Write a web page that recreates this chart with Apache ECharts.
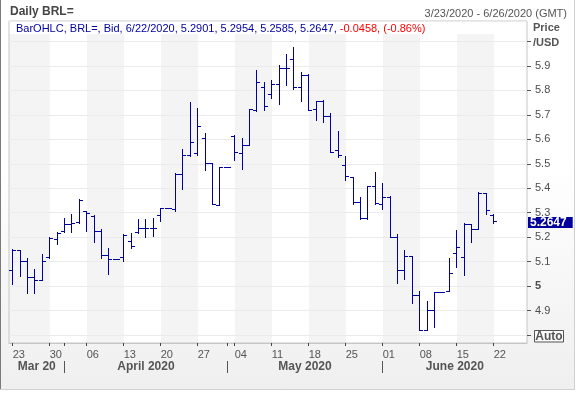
<!DOCTYPE html>
<html><head><meta charset="utf-8">
<script src="https://cdn.jsdelivr.net/npm/echarts@6/dist/echarts.min.js"></script>
<style>html,body{margin:0;padding:0;background:#fff}#c{width:577px;height:394px}</style>
</head><body><div id="c"></div>
<script>
// ---- data ----
const dates = [
 '2020-03-23','2020-03-24','2020-03-25','2020-03-26','2020-03-27','2020-03-30','2020-03-31',
 '2020-04-01','2020-04-02','2020-04-03','2020-04-06','2020-04-07','2020-04-08','2020-04-09','2020-04-10',
 '2020-04-13','2020-04-14','2020-04-15','2020-04-16','2020-04-17','2020-04-20','2020-04-21','2020-04-22',
 '2020-04-23','2020-04-24','2020-04-27','2020-04-28','2020-04-29','2020-04-30',
 '2020-05-01','2020-05-04','2020-05-05','2020-05-06','2020-05-07','2020-05-08','2020-05-11','2020-05-12',
 '2020-05-13','2020-05-14','2020-05-15','2020-05-18','2020-05-19','2020-05-20','2020-05-21','2020-05-22',
 '2020-05-25','2020-05-26','2020-05-27','2020-05-28','2020-05-29',
 '2020-06-01','2020-06-02','2020-06-03','2020-06-04','2020-06-05','2020-06-08','2020-06-09','2020-06-10',
 '2020-06-11','2020-06-12','2020-06-15','2020-06-16','2020-06-17','2020-06-18','2020-06-19','2020-06-22'
];
const padDates = ['2020-06-23','2020-06-24','2020-06-25','2020-06-26'];

const opens = [
 5.065,5.147,5.102,5.036,5.025,5.117,5.191,
 5.226,5.254,5.260,5.305,5.288,5.226,5.126,5.109,5.120,5.183,5.222,5.236,5.238,5.290,5.318,5.315,5.458,5.535,5.546,5.605,5.503,5.331,
 5.485,5.615,5.543,5.576,5.720,5.813,5.785,5.825,5.890,5.927,5.813,5.863,5.723,5.757,5.695,5.556,5.495,5.445,5.342,5.277,5.410,
 5.334,5.365,5.202,5.065,5.123,4.963,4.822,4.902,4.974,4.980,5.136,5.117,5.252,5.232,5.382,5.2901
];
const highs = [
 5.150,5.147,5.113,5.068,5.131,5.199,5.222,
 5.277,5.293,5.355,5.308,5.290,5.232,5.154,5.109,5.213,5.217,5.273,5.273,5.279,5.318,5.318,5.461,5.559,5.751,5.727,5.625,5.503,5.485,
 5.485,5.618,5.604,5.723,5.883,5.834,5.843,5.904,5.949,5.979,5.876,5.866,5.757,5.761,5.709,5.634,5.532,5.447,5.363,5.410,5.465,
 5.420,5.369,5.213,5.147,5.123,4.981,4.939,4.974,4.974,5.116,5.229,5.259,5.252,5.386,5.382,5.2954
];
const lows = [
 5.007,5.041,4.973,4.973,5.025,5.113,5.171,
 5.222,5.222,5.259,5.226,5.181,5.113,5.049,5.109,5.102,5.154,5.218,5.202,5.204,5.267,5.318,5.308,5.398,5.530,5.537,5.473,5.334,5.331,
 5.485,5.515,5.480,5.576,5.717,5.720,5.768,5.743,5.821,5.804,5.758,5.720,5.679,5.670,5.549,5.529,5.434,5.334,5.274,5.274,5.335,
 5.314,5.202,5.013,5.027,4.932,4.820,4.820,4.834,4.974,4.980,5.079,5.045,5.181,5.232,5.293,5.2585
];
const closes = [
 5.147,5.102,5.036,5.025,5.102,5.198,5.218,
 5.254,5.256,5.352,5.297,5.226,5.126,5.109,5.109,5.209,5.165,5.238,5.236,5.238,5.318,5.318,5.458,5.535,5.590,5.654,5.503,5.334,5.485,
 5.485,5.548,5.577,5.723,5.834,5.736,5.825,5.890,5.890,5.815,5.863,5.720,5.757,5.695,5.549,5.536,5.450,5.342,5.277,5.410,5.338,
 5.363,5.202,5.065,5.123,4.962,4.822,4.902,4.974,4.974,5.052,5.161,5.252,5.232,5.382,5.3105,5.2647
];
const monthLabels = ['Mar 20', 'April 2020', 'May 2020', 'June 2020'];
const hiddenYLabels = [4.8, 6.0];

// ---- layout / style ----
const FONT = "'Liberation Sans', Arial, sans-serif";
const BAR_COLOR = '#0000a0';
const GRID = {left: 9, right: 50, top: 21, bottom: 51};
const Y_MIN = 4.767, Y_MAX = 6.084;
const W = 577, H = 394;

const allDates = dates.concat(padDates);
const isMonday = d => new Date(d + 'T00:00:00Z').getUTCDay() === 1;
const isMonthStart = i => i === 0 || allDates[i].slice(5, 7) !== allDates[i - 1].slice(5, 7);
const fmtDate = d => { const p = d.split('-'); return (+p[1]) + '/' + (+p[2]) + '/' + p[0]; };

const mondays = allDates.map((d, i) => isMonday(d) ? i : -1).filter(i => i >= 0);
const bands = [];
for (let k = 0; k + 1 < mondays.length; k += 2) bands.push([mondays[k], mondays[k + 1], Y_MIN]);

const ohlc = dates.map((d, i) => [i, opens[i], highs[i], lows[i], closes[i]]);
const n = dates.length - 1;
const chg = closes[n] - closes[n - 1];
const pct = chg / closes[n - 1] * 100;
const legendText = '{n|BarOHLC, BRL=, Bid, ' + fmtDate(dates[n]) + ', ' +
  opens[n].toFixed(4) + ', ' + highs[n].toFixed(4) + ', ' + lows[n].toFixed(4) + ', ' + closes[n].toFixed(4) + ', }' +
  '{r|' + chg.toFixed(4) + ', (' + pct.toFixed(2) + '%)}';

const chart = echarts.init(document.getElementById('c'), null, {renderer: 'canvas', width: W, height: H});

const baseGraphics = [
  {type: 'rect', z: -100, shape: {x: 0, y: 0, width: 575, height: 390},
   style: {fill: new echarts.graphic.LinearGradient(0, 0, 0, 1, [
     {offset: 0, color: '#ffffff'}, {offset: 0.42, color: '#ffffff'}, {offset: 1, color: '#efefef'}])}},
  {type: 'line', z: 50, shape: {x1: 0.5, y1: 0, x2: 0.5, y2: 390}, style: {stroke: '#7a7a7a', lineWidth: 1}},
  {type: 'line', z: 50, shape: {x1: 574.5, y1: 0, x2: 574.5, y2: 390}, style: {stroke: '#d0d0d0', lineWidth: 1}},
  {type: 'line', z: 50, shape: {x1: 0, y1: 389.5, x2: 575, y2: 389.5}, style: {stroke: '#d0d0d0', lineWidth: 1}},
  {type: 'rect', z: 50, shape: {x: 534.5, y: 330.5, width: 29, height: 11.5},
   style: {fill: '#fafafa', stroke: '#555', lineWidth: 1}},
  {type: 'text', z: 51, x: 549, y: 336.5,
   style: {text: 'Auto', font: 'bold 12px ' + FONT, fill: '#555', align: 'center', verticalAlign: 'middle'}}
];

const option = {
  animation: false,
  backgroundColor: '#ffffff',
  title: [
    {text: 'Daily BRL=', left: 10, top: 5, padding: 0,
     textStyle: {fontFamily: FONT, fontSize: 12, fontWeight: 'bold', color: '#454545', lineHeight: 14}},
    {text: fmtDate(allDates[0]) + ' - ' + fmtDate(allDates[allDates.length - 1]) + ' (GMT)', right: 10, top: 7, padding: 0,
     textStyle: {fontFamily: FONT, fontSize: 11, fontWeight: 'normal', color: '#555', lineHeight: 14}},
    {text: legendText, left: 16, top: 22, padding: 0,
     textStyle: {fontFamily: FONT, fontSize: 11, fontWeight: 'normal', lineHeight: 14,
       rich: {n: {fontFamily: FONT, fontSize: 11, fontWeight: 'normal', color: '#0000a0', lineHeight: 14},
              r: {fontFamily: FONT, fontSize: 11, fontWeight: 'normal', color: '#ff0000', lineHeight: 14}}}},
    {text: 'Price\n/USD', left: 533, top: 21, padding: 0,
     textStyle: {fontFamily: FONT, fontSize: 11, fontWeight: 'bold', color: '#555', lineHeight: 14.5}}
  ],
  grid: {left: GRID.left, right: GRID.right, top: GRID.top, bottom: GRID.bottom,
         show: true, borderColor: '#c6c6c6', borderWidth: 1, backgroundColor: 'transparent', containLabel: false},
  xAxis: {
    type: 'category', data: allDates, boundaryGap: true,
    axisLine: {show: true, lineStyle: {color: '#c6c6c6'}},
    axisTick: {show: true, alignWithLabel: true, length: 3,
      interval: (i, v) => isMonday(v) || isMonthStart(i), lineStyle: {color: '#444'}},
    axisLabel: {interval: (i, v) => isMonday(v), formatter: v => v.slice(8), align: 'left',
      margin: 6, color: '#555', fontSize: 11, fontFamily: FONT},
    splitLine: {show: false}
  },
  yAxis: {
    type: 'value', position: 'right', min: Y_MIN, max: Y_MAX, splitNumber: 13,
    axisLine: {show: false},
    axisTick: {show: true, length: 4, lineStyle: {color: '#555'}},
    axisLabel: {margin: 8, color: '#4d4d4d', fontSize: 11, fontFamily: FONT,
      showMinLabel: false, showMaxLabel: false,
      formatter: v => {
        const r = Math.round(v * 10) / 10;
        if (Math.abs(v - r) > 1e-6) return '';
        if (hiddenYLabels.some(h => Math.abs(h - r) < 1e-6)) return '';
        if (Math.abs(r - 5) < 1e-6) return '{b|5}';
        return r.toFixed(1);
      },
      rich: {b: {fontWeight: 'bold', color: '#4d4d4d', fontSize: 11, fontFamily: FONT}}},
    splitLine: {show: true, lineStyle: {color: '#ebebeb'}}
  },
  series: [
    {
      type: 'custom', name: 'bands', z: -1, silent: true,
      encode: {x: [0, 1], y: 2},
      data: bands,
      renderItem: (params, api) => {
        const cs = params.coordSys;
        const s = api.value(0), e = api.value(1);
        const x0 = s === 0 ? cs.x : Math.round(api.coord([s, Y_MIN])[0]);
        const x1 = Math.round(api.coord([e, Y_MIN])[0]);
        const top = cs.y + 13;
        const children = [];
        if (params.dataIndex === 0) {
          children.push({type: 'rect', shape: {x: cs.x, y: cs.y, width: cs.width, height: cs.height}, style: {fill: '#ffffff'}});
        }
        children.push({type: 'rect', shape: {x: x0, y: top, width: x1 - x0, height: cs.y + cs.height - top}, style: {fill: '#f4f4f4'}});
        return {type: 'group', children};
      }
    },
    {
      type: 'custom', name: 'BRL=', z: 3,
      encode: {x: 0, y: [1, 2, 3, 4]},
      data: ohlc,
      renderItem: (params, api) => {
        const i = api.value(0);
        const pO = api.coord([i, api.value(1)]);
        const pH = api.coord([i, api.value(2)]);
        const pL = api.coord([i, api.value(3)]);
        const pC = api.coord([i, api.value(4)]);
        const w = Math.round(api.size([1, 0])[0] * 0.45);
        const xi = Math.floor(pO[0]);
        const st = {stroke: BAR_COLOR, lineWidth: 1};
        const yo = Math.round(pO[1]) + 0.5, yc = Math.round(pC[1]) + 0.5;
        return {type: 'group', children: [
          {type: 'line', shape: {x1: xi + 0.5, y1: Math.round(pH[1]), x2: xi + 0.5, y2: Math.round(pL[1]) + 1}, style: st},
          {type: 'line', shape: {x1: xi - w, y1: yo, x2: xi, y2: yo}, style: st},
          {type: 'line', shape: {x1: xi + 1, y1: yc, x2: xi + 1 + w, y2: yc}, style: st}
        ]};
      },
      markLine: {
        silent: true, symbol: ['none', 'none'], animation: false, z: 10,
        lineStyle: {color: 'rgba(0,0,0,0)', width: 1, type: 'solid'},
        emphasis: {disabled: true},
        data: [{yAxis: closes[n]}],
        label: {show: true, position: 'end', distance: 1, formatter: closes[n].toFixed(4),
          color: '#ffffff', backgroundColor: '#00009c', fontWeight: 'bold', fontSize: 12,
          fontFamily: FONT, lineHeight: 11, padding: [0, 6, 0, 2]}
      }
    }
  ],
  graphic: baseGraphics
};

chart.setOption(option);

// month labels & separators placed through the x axis scale
const monthStarts = allDates.map((d, i) => i).filter(i => isMonthStart(i));
const gl = GRID.left, gr = W - GRID.right;
const px = i => chart.convertToPixel({xAxisIndex: 0}, allDates[i]);
const extra = [];
monthStarts.forEach((si, k) => {
  const a = k === 0 ? gl : px(si);
  const b = k + 1 < monthStarts.length ? px(monthStarts[k + 1]) : gr;
  extra.push({type: 'text', z: 50, x: (a + b) / 2, y: 367,
    style: {text: monthLabels[k], font: 'bold 12px ' + FONT, fill: '#555', align: 'center', verticalAlign: 'middle'}});
  if (k > 0) {
    const xs = Math.floor(a) + 0.5;
    extra.push({type: 'line', z: 50, shape: {x1: xs, y1: 361, x2: xs, y2: 373}, style: {stroke: '#555', lineWidth: 1}});
  }
});
chart.setOption({graphic: baseGraphics.concat(extra)});
</script>
</body></html>
